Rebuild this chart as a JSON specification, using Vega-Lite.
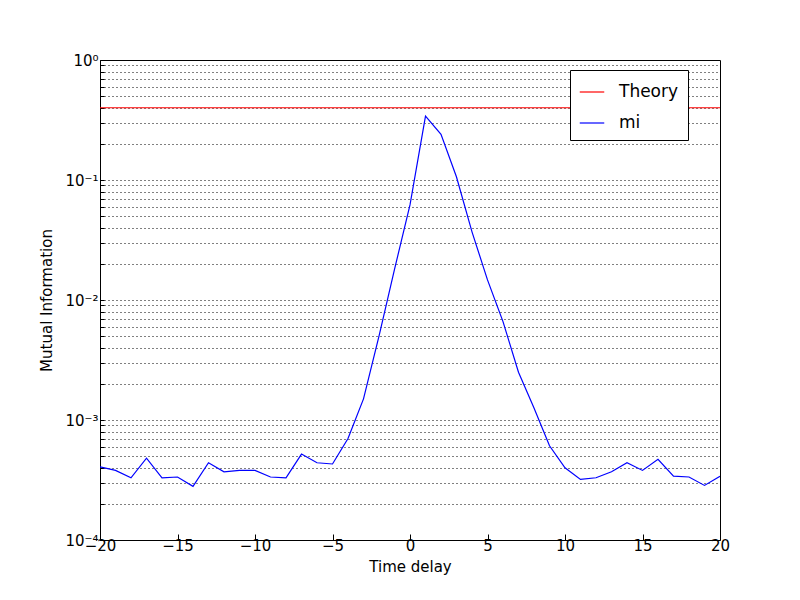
{
"$schema":"https://vega.github.io/schema/vega-lite/v6.json",
"width":620,"height":480,
"autosize":{"type":"none"},
"padding":{"left":100,"top":60,"right":80,"bottom":60},
"config":{"font":"DejaVu Sans","view":{"stroke":"black","strokeWidth":1}},
"data":{"values":[
{"t":-20,"v":0.4,"s":"Theory"},{"t":20,"v":0.4,"s":"Theory"},
{"t":-20,"v":4.07e-4,"s":"mi"},{"t":-19,"v":3.8e-4,"s":"mi"},{"t":-18,"v":3.3e-4,"s":"mi"},{"t":-17,"v":4.8e-4,"s":"mi"},{"t":-16,"v":3.3e-4,"s":"mi"},{"t":-15,"v":3.35e-4,"s":"mi"},{"t":-14,"v":2.8e-4,"s":"mi"},{"t":-13,"v":4.4e-4,"s":"mi"},{"t":-12,"v":3.7e-4,"s":"mi"},{"t":-11,"v":3.8e-4,"s":"mi"},{"t":-10,"v":3.8e-4,"s":"mi"},{"t":-9,"v":3.35e-4,"s":"mi"},{"t":-8,"v":3.3e-4,"s":"mi"},{"t":-7,"v":5.2e-4,"s":"mi"},{"t":-6,"v":4.4e-4,"s":"mi"},{"t":-5,"v":4.3e-4,"s":"mi"},{"t":-4,"v":7.0e-4,"s":"mi"},{"t":-3,"v":1.5e-3,"s":"mi"},{"t":-2,"v":5.0e-3,"s":"mi"},{"t":-1,"v":1.8e-2,"s":"mi"},{"t":0,"v":6.2e-2,"s":"mi"},{"t":1,"v":0.34,"s":"mi"},{"t":2,"v":0.24,"s":"mi"},{"t":3,"v":0.106,"s":"mi"},{"t":4,"v":0.037,"s":"mi"},{"t":5,"v":0.0147,"s":"mi"},{"t":6,"v":0.0066,"s":"mi"},{"t":7,"v":0.0025,"s":"mi"},{"t":8,"v":0.00126,"s":"mi"},{"t":9,"v":6.1e-4,"s":"mi"},{"t":10,"v":4.0e-4,"s":"mi"},{"t":11,"v":3.2e-4,"s":"mi"},{"t":12,"v":3.3e-4,"s":"mi"},{"t":13,"v":3.7e-4,"s":"mi"},{"t":14,"v":4.4e-4,"s":"mi"},{"t":15,"v":3.8e-4,"s":"mi"},{"t":16,"v":4.7e-4,"s":"mi"},{"t":17,"v":3.4e-4,"s":"mi"},{"t":18,"v":3.35e-4,"s":"mi"},{"t":19,"v":2.85e-4,"s":"mi"},{"t":20,"v":3.4e-4,"s":"mi"}
]},
"mark":{"type":"line","strokeWidth":1.2,"clip":true},
"encoding":{
"x":{"field":"t","type":"quantitative","title":"Time delay","scale":{"domain":[-20,20],"nice":false},
"axis":{"values":[-20,-15,-10,-5,0,5,10,15,20],"grid":false,"tickSize":-6,"tickColor":"black","domain":false,"labelFlush":false,"labelFontSize":15,"labelColor":"black","titleFontSize":15,"titleFontWeight":"normal","titleColor":"black","labelPadding":4,"titlePadding":6}},
"y":{"field":"v","type":"quantitative","title":"Mutual Information","scale":{"type":"log","domain":[0.0001,1],"nice":false},
"axis":{"values":[0.0001,0.0002,0.0003,0.0004,0.0005,0.0006,0.0007,0.0008,0.0009,0.001,0.002,0.003,0.004,0.005,0.006,0.007,0.008,0.009,0.01,0.02,0.03,0.04,0.05,0.06,0.07,0.08,0.09,0.1,0.2,0.3,0.4,0.5,0.6,0.7,0.8,0.9,1],
"labelExpr":"datum.value==1?'10⁰':datum.value==0.1?'10⁻¹':abs(datum.value-0.01)<1e-9?'10⁻²':abs(datum.value-0.001)<1e-10?'10⁻³':abs(datum.value-0.0001)<1e-11?'10⁻⁴':''",
"labelFlush":false,"grid":true,"gridColor":"black","gridDash":[1,3],"gridOpacity":1,"tickColor":"black","tickSize":-4,"domain":false,"labelFontSize":15,"labelColor":"black","titleFontSize":15,"titleFontWeight":"normal","titleColor":"black","labelPadding":6,"titlePadding":10}},
"color":{"field":"s","type":"nominal","scale":{"domain":["Theory","mi"],"range":["red","blue"]},
"legend":{"title":null,"orient":"none","legendX":470,"legendY":10,"strokeColor":"black","fillColor":"white","padding":9,"labelFontSize":17,"labelOffset":14,"symbolType":"stroke","symbolSize":600,"symbolStrokeWidth":1.2,"rowPadding":10,"labelColor":"black","labelLimit":200,"columnPadding":20}}
}
}
